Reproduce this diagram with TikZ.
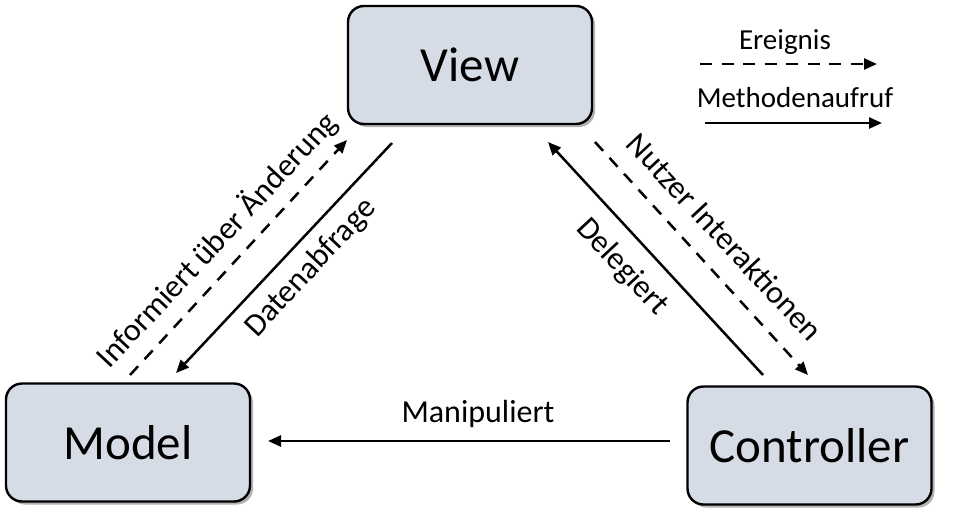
\documentclass[tikz,border=0pt]{standalone}
\usepackage{fontspec}
\setmainfont{Carlito}
\usetikzlibrary{arrows.meta,shadows}
\definecolor{boxfill}{HTML}{D6DCE5}
\begin{document}
\begin{tikzpicture}[x=1pt,y=-1pt,
  box/.style={draw=black, line width=2.4pt, fill=boxfill, rounded corners=16pt,
    minimum width=244pt, minimum height=118pt, inner sep=0pt,
    font=\fontsize{49}{58}\selectfont,
    drop shadow={shadow xshift=3pt,shadow yshift=-3pt,opacity=0.3,fill=black}},
  conn/.style={line width=2.5pt, -{Triangle[length=13pt,width=11pt]}},
  evt/.style={conn, dash pattern=on 12pt off 9.5pt},
  lbl/.style={font=\fontsize{32}{38}\selectfont, inner sep=0pt},
  leg/.style={font=\fontsize{29}{34}\selectfont, inner sep=0pt}]
\useasboundingbox (0,0) rectangle (955,520);

\node[box] (view) at (470,65) {View};
\node[box] (model) at (128,442.5) {Model};
\node[box] (ctrl) at (809.5,445.5) {Controller};

% Manipuliert
\coordinate (m1) at (670,441);
\coordinate (m2) at (268,441);
\draw[conn] (m1) -- (m2);
\node[lbl] (lman) at (478,414) {Manipuliert};

% Datenabfrage
\coordinate (d1) at (392,143);
\coordinate (d2) at (176,373);
\draw[conn] (d1) -- (d2);
\node[lbl, rotate=47] (ldat) at (311,268) {Datenabfrage};

% Informiert
\coordinate (i1) at (130,375);
\coordinate (i2) at (347,140);
\draw[evt] (i1) -- (i2);
\node[lbl, rotate=47] (linf) at (217,240) {Informiert über Änderung};

% Delegiert
\coordinate (g1) at (763,375);
\coordinate (g2) at (548,142);
\draw[conn] (g1) -- (g2);
\node[lbl, rotate=-47] (ldel) at (622,267) {Delegiert};

% Nutzer Interaktionen
\coordinate (n1) at (595,142);
\coordinate (n2) at (808,375);
\draw[evt] (n1) -- (n2);
\node[lbl, rotate=-47] (lnut) at (725,237) {Nutzer Interaktionen};

% Legend
\coordinate (e1) at (700,64);
\coordinate (e2) at (877,64);
\draw[evt] (e1) -- (e2);
\node[leg] (lerg) at (785,42) {Ereignis};
\coordinate (f1) at (705,123);
\coordinate (f2) at (882,123);
\draw[conn] (f1) -- (f2);
\node[leg] (lmeth) at (795,98) {Methodenaufruf};
\end{tikzpicture}
\end{document}
